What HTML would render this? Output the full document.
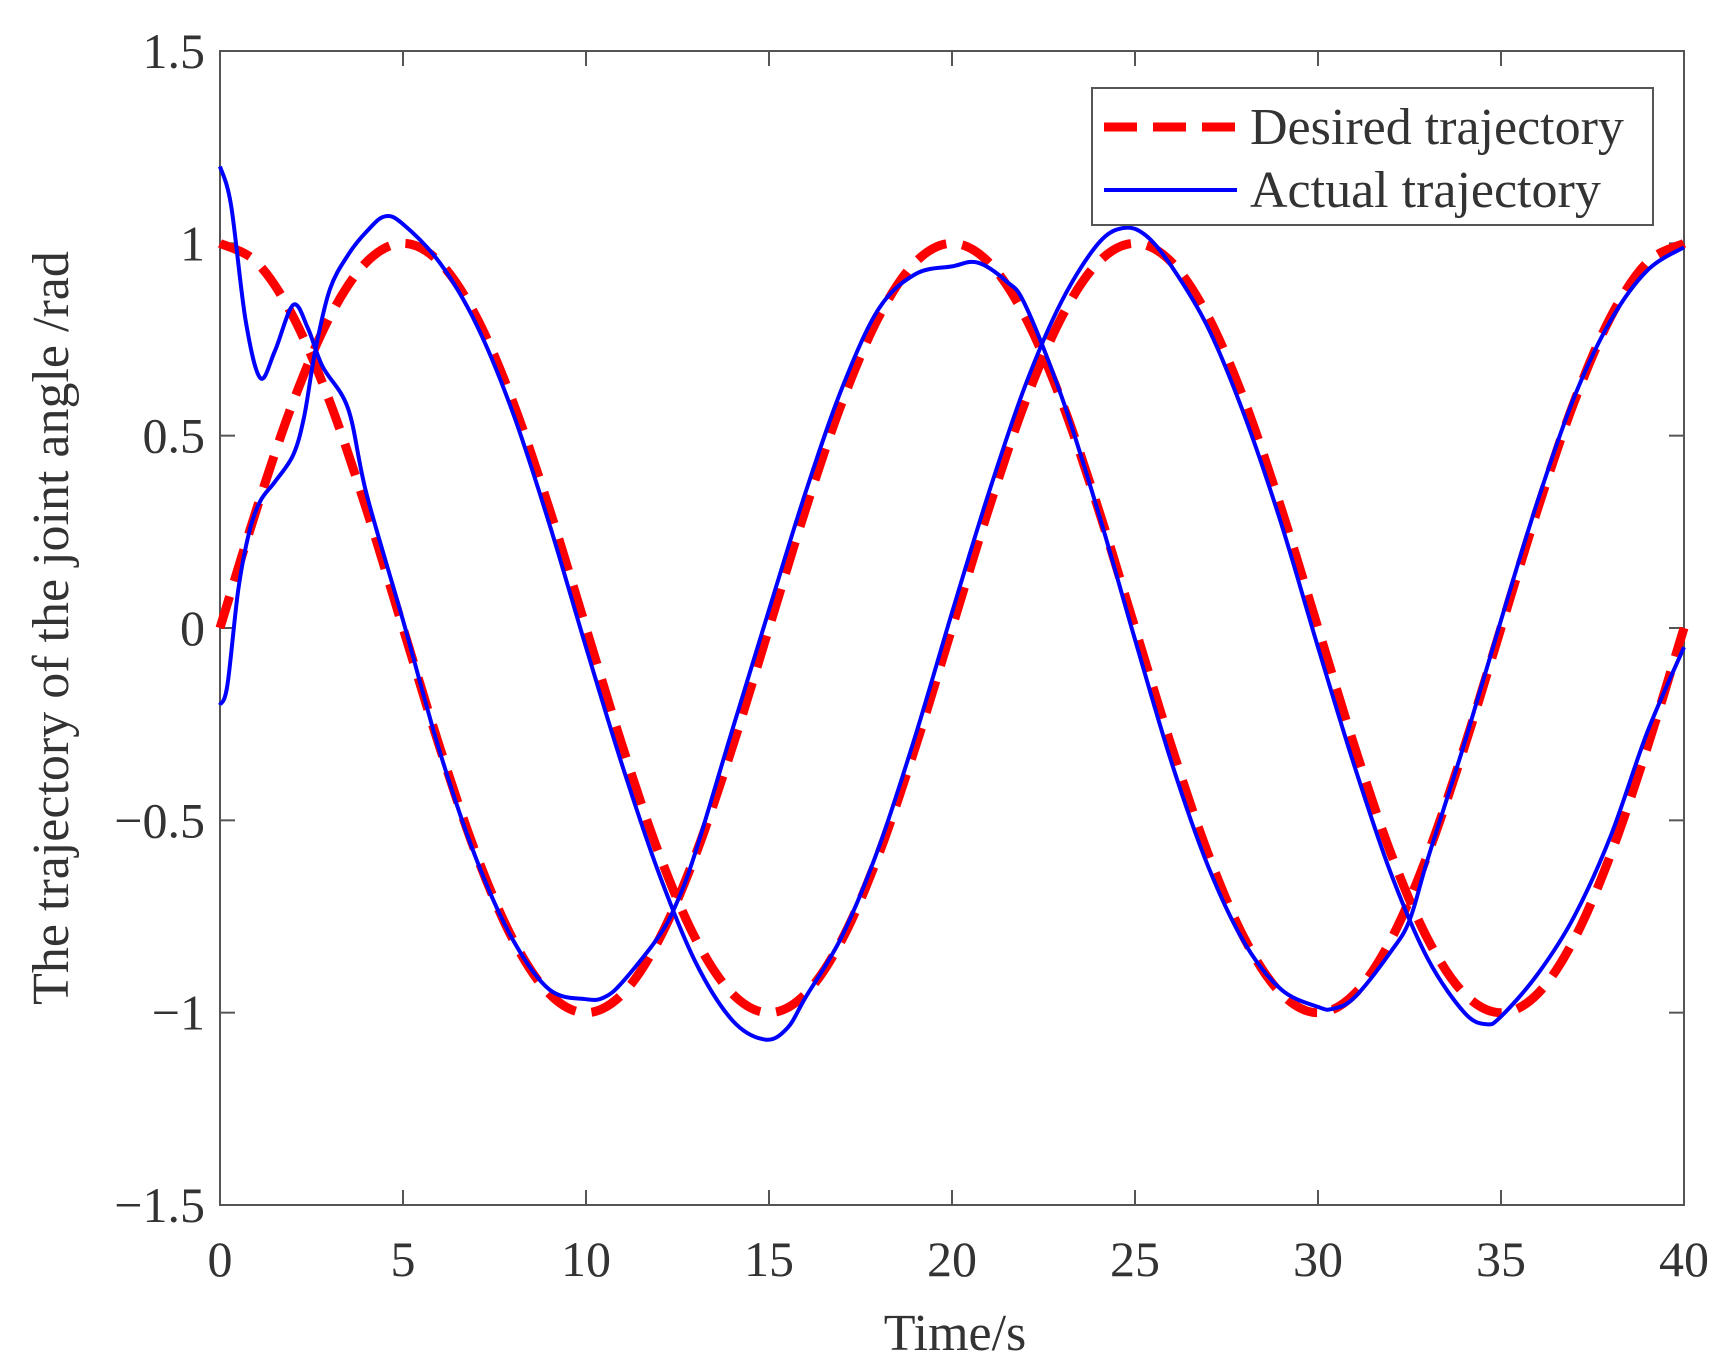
<!DOCTYPE html>
<html><head><meta charset="utf-8"><style>
html,body{margin:0;padding:0;background:#fff;}
svg text{font-family:"Liberation Serif",serif;fill:#333;}
</style></head><body>
<svg id="chart" width="1730" height="1367" viewBox="0 0 1730 1367" xmlns="http://www.w3.org/2000/svg">
<g id="grid-layer"></g>
<g id="series-layer"></g>
<g id="legend">
<rect x="1092" y="88" width="561" height="137" fill="#fff" stroke="#555" stroke-width="2"/>
<line x1="1104" y1="127" x2="1237" y2="127" stroke="#ff0000" stroke-width="9" stroke-dasharray="33,16"/>
<text x="1250" y="144" font-size="52">Desired trajectory</text>
<line x1="1104" y1="190" x2="1237" y2="190" stroke="#0000ff" stroke-width="4"/>
<text x="1250" y="207" font-size="52">Actual trajectory</text>
</g>
<text x="955" y="1350" font-size="52" text-anchor="middle">Time/s</text>
<text transform="translate(68,628) rotate(-90)" font-size="52" text-anchor="middle">The trajectory of the joint angle /rad</text>
</svg>
<script>
const xTicks=[0,5,10,15,20,25,30,35,40];
const yTicks=[-1.5,-1,-0.5,0,0.5,1,1.5];
const yTickLabels=["\u22121.5","\u22121","\u22120.5","0","0.5","1","1.5"];
const desiredT=[0,1,2,3,4,5,6,7,8,9,10,11,12,13,14,15,16,17,18,19,20,21,22,23,24,25,26,27,28,29,30,31,32,33,34,35,36,37,38,39,40];
const desiredCos=[1,.951,.809,.588,.309,0,-.309,-.588,-.809,-.951,-1,-.951,-.809,-.588,-.309,0,.309,.588,.809,.951,1,.951,.809,.588,.309,0,-.309,-.588,-.809,-.951,-1,-.951,-.809,-.588,-.309,0,.309,.588,.809,.951,1];
const desiredSin=[0,.309,.588,.809,.951,1,.951,.809,.588,.309,0,-.309,-.588,-.809,-.951,-1,-.951,-.809,-.588,-.309,0,.309,.588,.809,.951,1,.951,.809,.588,.309,0,-.309,-.588,-.809,-.951,-1,-.951,-.809,-.588,-.309,0];
const actualAT=[0,0.3,0.7,1.1,1.5,2.0,2.4,2.8,3.5,4,5,6,7,8,9,10,10.5,11,12,12.5,13,14,15,16,17,18,19,20,20.7,21.5,22,23,24,25,26,27,28,29,30,30.4,31,32,32.5,33,34,35,36,37,38,39,40];
const actualAV=[1.2,1.1,0.8,0.65,0.72,0.84,0.78,0.68,0.57,0.35,0.02,-0.32,-0.6,-0.81,-0.94,-0.965,-0.96,-0.92,-0.8,-0.71,-0.58,-0.264,0.047,0.353,0.625,0.83,0.92,0.94,0.95,0.9,0.84,0.6,0.3,-0.03,-0.35,-0.62,-0.82,-0.94,-0.985,-0.99,-0.96,-0.84,-0.76,-0.6,-0.3,0.02,0.33,0.6,0.8,0.93,0.99];
const actualBT=[0,0.2,0.5,0.8,1.1,1.5,2,2.3,2.6,3,3.5,4,4.5,5,6,7,8,9,10,11,12,13,14,14.9,15.5,16,17,18,19,20,21,22,23,24,24.7,25.3,26,27,28,29,30,31,32,33,34,34.6,35,36,37,38,39,40];
const actualBV=[-0.2,-0.15,0.1,0.25,0.33,0.38,0.45,0.55,0.72,0.88,0.97,1.03,1.07,1.05,0.95,0.79,0.56,0.27,-0.05,-0.36,-0.64,-0.87,-1.02,-1.07,-1.04,-0.96,-0.8,-0.57,-0.28,0.04,0.35,0.63,0.85,1.0,1.04,1.02,0.94,0.78,0.55,0.27,-0.05,-0.36,-0.64,-0.86,-1.0,-1.03,-1.01,-0.9,-0.75,-0.54,-0.27,-0.05];

const X0=220,X1=1684,Y0=1205,Y1=51;
const xs=t=>X0+(t-0)/(40-0)*(X1-X0);
const ys=v=>Y0-(v+1.5)/3*(Y0-Y1);
const NS="http://www.w3.org/2000/svg";
function mk(tag,attrs,parent){const e=document.createElementNS(NS,tag);for(const k in attrs)e.setAttribute(k,attrs[k]);parent.appendChild(e);return e;}
const g=document.getElementById('grid-layer');
const s=document.getElementById('series-layer');
xTicks.forEach(t=>{
  const x=xs(t);
  const a=mk('line',{x1:x,y1:Y0,x2:x,y2:Y0-15,stroke:'#555','stroke-width':2},g);
  
  
  const b=mk('line',{x1:x,y1:Y1,x2:x,y2:Y1+15,stroke:'#555','stroke-width':2},g);
  
  
  const tx=mk('text',{x:x,y:1276,'font-size':50,'text-anchor':'middle'},g);
  tx.textContent=String(t);
  
  
});
yTicks.forEach((v,i)=>{
  const y=ys(v);
  const a=mk('line',{x1:X0,y1:y,x2:X0+15,y2:y,stroke:'#555','stroke-width':2},g);
  
  
  const b=mk('line',{x1:X1,y1:y,x2:X1-15,y2:y,stroke:'#555','stroke-width':2},g);
  
  
  const tx=mk('text',{x:205,y:y+17,'font-size':50,'text-anchor':'end'},g);
  tx.textContent=yTickLabels[i];
  
  
});
const box=mk('rect',{x:X0,y:Y1,width:X1-X0,height:Y0-Y1,fill:'none',stroke:'#555','stroke-width':2},g);



function pathD(T,V){
  const p=T.map((t,i)=>[xs(t),ys(V[i])]);
  let d='M'+p[0][0].toFixed(1)+','+p[0][1].toFixed(1);
  for(let i=0;i<p.length-1;i++){
    const p0=p[Math.max(0,i-1)],p1=p[i],p2=p[i+1],p3=p[Math.min(p.length-1,i+2)];
    const c1x=p1[0]+(p2[0]-p0[0])/6,c1y=p1[1]+(p2[1]-p0[1])/6;
    const c2x=p2[0]-(p3[0]-p1[0])/6,c2y=p2[1]-(p3[1]-p1[1])/6;
    d+=' C'+c1x.toFixed(1)+','+c1y.toFixed(1)+' '+c2x.toFixed(1)+','+c2y.toFixed(1)+' '+p2[0].toFixed(1)+','+p2[1].toFixed(1);
  }
  return d;
}
const d1=mk('path',{d:pathD(desiredT,desiredCos),fill:'none',stroke:'#ff0000','stroke-width':9,'stroke-dasharray':'33,16'},s);


const d2=mk('path',{d:pathD(desiredT,desiredSin),fill:'none',stroke:'#ff0000','stroke-width':9,'stroke-dasharray':'33,16'},s);


const a1=mk('path',{d:pathD(actualAT,actualAV),fill:'none',stroke:'#0000ff','stroke-width':4},s);


const a2=mk('path',{d:pathD(actualBT,actualBV),fill:'none',stroke:'#0000ff','stroke-width':4},s);


</script>
</body></html>
